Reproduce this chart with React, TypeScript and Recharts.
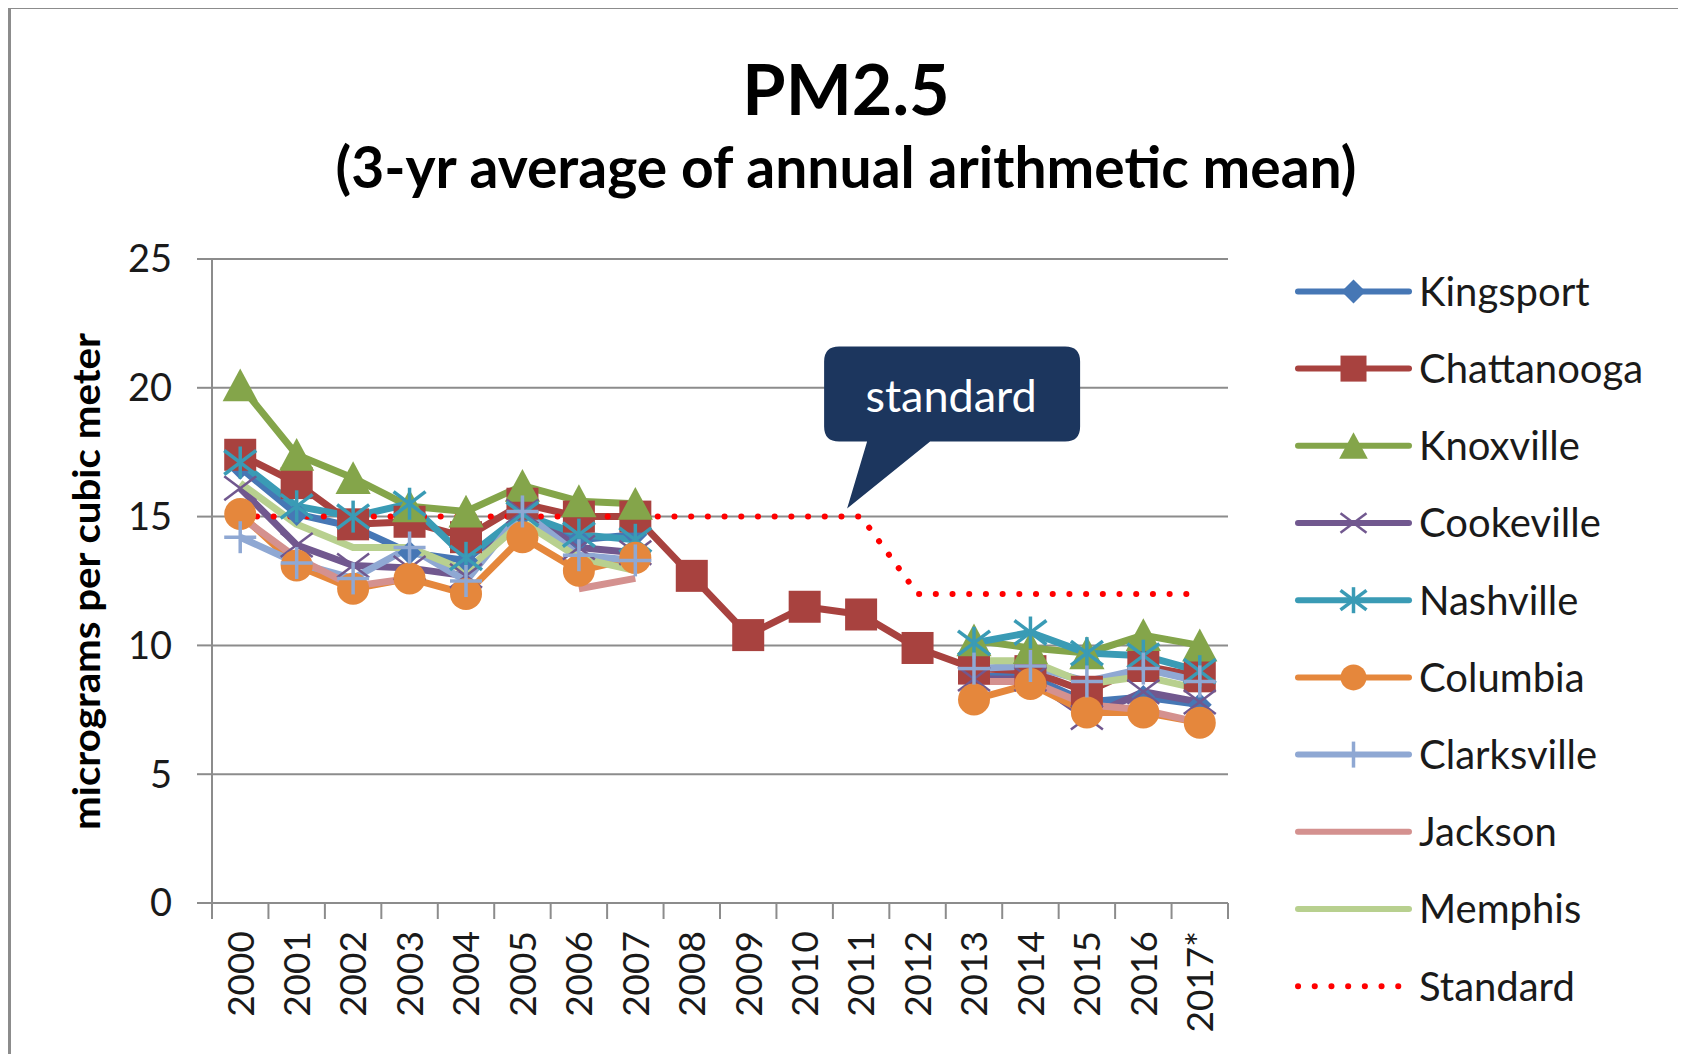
import React from 'react';
import { LineChart, Line, XAxis, YAxis, CartesianGrid, ReferenceDot, Legend } from 'recharts';

// ---------- data ----------
const years = ['2000', '2001', '2002', '2003', '2004', '2005', '2006', '2007', '2008', '2009', '2010', '2011', '2012', '2013', '2014', '2015', '2016', '2017*'];
const yTicks = [0, 5, 10, 15, 20, 25];

const kingsport = [16.9, 15.1, 14.6, 13.6, 13.3, 15.1, 14.1, 14.3, null, null, null, null, null, 8.8, 8.8, 7.8, 8.0, 7.7];
const chattanooga = [17.4, 16.3, 14.7, 14.8, 14.2, 15.5, 15.0, 15.0, 12.7, 10.4, 11.5, 11.2, 9.9, 9.1, 9.0, 8.2, 9.2, 8.8];
const knoxville = [20.1, 17.4, 16.5, 15.4, 15.2, 16.2, 15.6, 15.5, null, null, null, null, null, 10.2, 9.9, 9.7, 10.4, 10.0];
const cookeville = [16.1, 13.9, 13.1, 13.0, 12.7, 15.2, 13.8, 13.6, null, null, null, null, null, 8.7, 8.7, 7.2, 8.2, 7.8];
const nashville = [17.1, 15.4, 15.0, 15.5, 13.4, 15.1, 14.3, 14.1, null, null, null, null, null, 10.1, 10.5, 9.7, 9.6, 9.0];
const columbia = [15.1, 13.1, 12.2, 12.6, 12.0, 14.2, 12.9, 13.4, null, null, null, null, null, 7.9, 8.5, 7.4, 7.4, 7.0];
const clarksville = [14.2, 13.2, 12.6, 13.8, 12.5, 15.2, 13.5, 13.3, null, null, null, null, null, 9.1, 9.2, 8.6, 9.1, 8.6];
const jackson = [15.0, 13.4, 12.3, 12.6, null, null, 12.2, 12.6, null, null, null, null, null, 8.6, 8.6, 7.7, 7.5, 7.0];
const memphis = [16.3, 14.7, 13.8, 13.8, 12.9, 14.8, 13.4, 12.9, null, null, null, null, null, 9.4, 9.4, 8.5, 8.8, 8.3];
const standard = [15, 15, 15, 15, 15, 15, 15, 15, 15, 15, 15, 15, 12, 12, 12, 12, 12, 12];

const calloutYear = '2011';
const calloutValue = 15;
const calloutText = 'standard';

type MarkerKind = 'diamond' | 'square' | 'triangle' | 'x' | 'asterisk' | 'circle' | 'plus' | 'none';

const series: { key: string; values: (number | null)[]; color: string; marker: MarkerKind }[] = [
  { key: 'Kingsport', values: kingsport, color: '#4677B5', marker: 'diamond' },
  { key: 'Chattanooga', values: chattanooga, color: '#A8423F', marker: 'square' },
  { key: 'Knoxville', values: knoxville, color: '#84A54A', marker: 'triangle' },
  { key: 'Cookeville', values: cookeville, color: '#71588F', marker: 'x' },
  { key: 'Nashville', values: nashville, color: '#3A9BB5', marker: 'asterisk' },
  { key: 'Columbia', values: columbia, color: '#E5873C', marker: 'circle' },
  { key: 'Clarksville', values: clarksville, color: '#8FA8D3', marker: 'plus' },
  { key: 'Jackson', values: jackson, color: '#D4918F', marker: 'none' },
  { key: 'Memphis', values: memphis, color: '#B8D08F', marker: 'none' },
];
const standardColor = '#FF0000';

const data = years.map((year, i) => {
  const row: Record<string, any> = { year, Standard: standard[i] };
  series.forEach((s) => {
    row[s.key] = s.values[i];
  });
  return row;
});

// ---------- layout ----------
const CHART_W = 1660;
const CHART_H = 1044;
const YAXIS_W = 201;
const MARGIN = { top: 250, right: 443, bottom: 0, left: 0 };
const PLOT_W = CHART_W - MARGIN.left - MARGIN.right - YAXIS_W;
const BAND = PLOT_W / years.length;
const GRID = '#8c8c8c';
const TEXT = '#1a1a1a';
const FONT = 'Lato, "Open Sans", sans-serif';

function drawMarker(kind: MarkerKind, cx: number, cy: number, color: string, s: number) {
  const sw = 3.5;
  switch (kind) {
    case 'diamond':
      return <polygon points={`${cx},${cy - s} ${cx + s},${cy} ${cx},${cy + s} ${cx - s},${cy}`} fill={color} />;
    case 'square':
      return <rect x={cx - s} y={cy - s} width={2 * s} height={2 * s} fill={color} />;
    case 'triangle':
      return <polygon points={`${cx},${cy - s * 1.05} ${cx + s * 1.1},${cy + s} ${cx - s * 1.1},${cy + s}`} fill={color} />;
    case 'circle':
      return <circle cx={cx} cy={cy} r={s} fill={color} />;
    case 'x':
      return (
        <g stroke={color} strokeWidth={sw - 1}>
          <line x1={cx - s} y1={cy - s * 0.75} x2={cx + s} y2={cy + s * 0.75} />
          <line x1={cx - s} y1={cy + s * 0.75} x2={cx + s} y2={cy - s * 0.75} />
        </g>
      );
    case 'asterisk':
      return (
        <g stroke={color} strokeWidth={sw}>
          <line x1={cx - s} y1={cy - s * 0.75} x2={cx + s} y2={cy + s * 0.75} />
          <line x1={cx - s} y1={cy + s * 0.75} x2={cx + s} y2={cy - s * 0.75} />
          <line x1={cx} y1={cy - s} x2={cx} y2={cy + s} />
        </g>
      );
    case 'plus':
      return (
        <g stroke={color} strokeWidth={sw}>
          <line x1={cx - s} y1={cy} x2={cx + s} y2={cy} />
          <line x1={cx} y1={cy - s} x2={cx} y2={cy + s} />
        </g>
      );
    default:
      return null;
  }
}

const makeDot = (kind: MarkerKind, color: string, s: number) => (props: any) => {
  const { cx, cy, index } = props;
  if (cx == null || cy == null || Number.isNaN(cy)) return <g key={`e-${index}`} />;
  return <g key={`m-${index}`}>{drawMarker(kind, cx, cy, color, s)}</g>;
};

const XTick = (props: any) => {
  const { x, y, payload, index } = props;
  const half = BAND / 2;
  return (
    <g>
      <line x1={x - half} x2={x - half} y1={y} y2={y + 16} stroke={GRID} strokeWidth={2} />
      {index === years.length - 1 && <line x1={x + half} x2={x + half} y1={y} y2={y + 16} stroke={GRID} strokeWidth={2} />}
      <text
        transform={`translate(${x},${y + 28}) rotate(-90)`}
        textAnchor="end"
        dy="0.36em"
        fontFamily={FONT}
        fontSize={37}
        fill={TEXT}
      >
        {payload.value}
      </text>
    </g>
  );
};

const Callout = (props: any) => {
  const { cx, cy } = props;
  if (cx == null || cy == null) return <g />;
  const L = cx - 37;
  const R = cx + 219;
  const T = cy - 170;
  const B = cy - 75;
  const r = 15;
  const d = `M ${L + r},${T} H ${R - r} Q ${R},${T} ${R},${T + r} V ${B - r} Q ${R},${B} ${R - r},${B} H ${cx + 69} L ${cx - 14},${cy - 8} L ${cx + 6},${B} H ${L + r} Q ${L},${B} ${L},${B - r} V ${T + r} Q ${L},${T} ${L + r},${T} Z`;
  return (
    <g>
      <path d={d} fill="#1C365E" />
      <text x={cx + 90} y={cy - 105} textAnchor="middle" fontFamily={FONT} fontSize={45} fill="#ffffff">
        {calloutText}
      </text>
    </g>
  );
};

const LegendBox = () => {
  const rowY = (i: number) => 40.4 + 77.2 * i;
  const lx1 = 8;
  const lx2 = 119;
  const mx = 63.5;
  const tx = 129;
  return (
    <svg width={380} height={800} style={{ display: 'block' }}>
      {series.map((s, i) => (
        <g key={s.key}>
          <line x1={lx1} x2={lx2} y1={rowY(i)} y2={rowY(i)} stroke={s.color} strokeWidth={6} strokeLinecap="round" />
          {drawMarker(s.marker, mx, rowY(i), s.color, s.marker === 'diamond' ? 12 : 13)}
          <text x={tx} y={rowY(i) + 14.4} fontFamily={FONT} fontSize={40} fill={TEXT}>
            {s.key}
          </text>
        </g>
      ))}
      <g>
        <line
          x1={lx1}
          x2={lx2 - 10}
          y1={rowY(series.length)}
          y2={rowY(series.length)}
          stroke={standardColor}
          strokeWidth={6}
          strokeDasharray="0.1 16.6"
          strokeLinecap="round"
        />
        <text x={tx} y={rowY(series.length) + 14.4} fontFamily={FONT} fontSize={40} fill={TEXT}>
          Standard
        </text>
      </g>
    </svg>
  );
};

export default function App() {
  return (
    <div
      style={{
        position: 'relative',
        width: 1675,
        height: 1053,
        marginTop: -2,
        marginBottom: -8,
        borderLeft: `3px solid ${GRID}`,
        borderTop: `3px solid ${GRID}`,
        background: '#fff',
        overflow: 'hidden',
      }}
    >
      <LineChart width={CHART_W} height={CHART_H} data={data} margin={MARGIN}>
        <CartesianGrid vertical={false} stroke={GRID} strokeWidth={2} />
        <XAxis
          dataKey="year"
          interval={0}
          tickLine={false}
          tickSize={0}
          tickMargin={0}
          height={CHART_H - MARGIN.top - 644}
          padding={{ left: BAND / 2, right: BAND / 2 }}
          axisLine={{ stroke: GRID, strokeWidth: 2 }}
          tick={(p: any) => <XTick {...p} />}
        />
        <YAxis
          type="number"
          domain={[0, 25]}
          ticks={yTicks}
          interval={0}
          width={YAXIS_W}
          tickSize={15}
          tickMargin={25}
          axisLine={{ stroke: GRID, strokeWidth: 2 }}
          tickLine={{ stroke: GRID, strokeWidth: 2 }}
          tick={{ fontFamily: FONT, fontSize: 38, fill: TEXT }}
        />
        {series.map((s) => (
          <Line
            key={s.key}
            dataKey={s.key}
            stroke={s.color}
            strokeWidth={7}
            strokeLinejoin="round"
            dot={s.marker === 'none' ? false : makeDot(s.marker, s.color, s.marker === 'diamond' ? 12 : 16)}
            activeDot={false}
            connectNulls={false}
            isAnimationActive={false}
          />
        ))}
        <Line
          dataKey="Standard"
          stroke={standardColor}
          strokeWidth={6}
          strokeDasharray="0.1 16.6"
          strokeLinecap="round"
          dot={false}
          activeDot={false}
          isAnimationActive={false}
        />
        <ReferenceDot x={calloutYear} y={calloutValue} r={0} ifOverflow="visible" shape={(p: any) => <Callout {...p} />} />
        <Legend
          layout="vertical"
          align="center"
          verticalAlign="middle"
          wrapperStyle={{ left: 1279, top: 242, width: 380 }}
          content={() => <LegendBox />}
        />
      </LineChart>
      <svg width={CHART_W} height={CHART_H} style={{ position: 'absolute', left: 0, top: 0, pointerEvents: 'none' }}>
        <text x={835} y={106} textAnchor="middle" fontFamily={FONT} fontWeight={700} fontSize={70} fill="#000">
          PM2.5
        </text>
        <text x={835} y={179} textAnchor="middle" fontFamily={FONT} fontWeight={700} fontSize={57} fill="#000">
          (3-yr average of annual arithmetic mean)
        </text>
        <text
          transform="translate(89,572.5) rotate(-90)"
          textAnchor="middle"
          fontFamily={FONT}
          fontWeight={700}
          fontSize={38}
          textLength={497}
          lengthAdjust="spacingAndGlyphs"
          fill="#000"
        >
          micrograms per cubic meter
        </text>
      </svg>
    </div>
  );
}
